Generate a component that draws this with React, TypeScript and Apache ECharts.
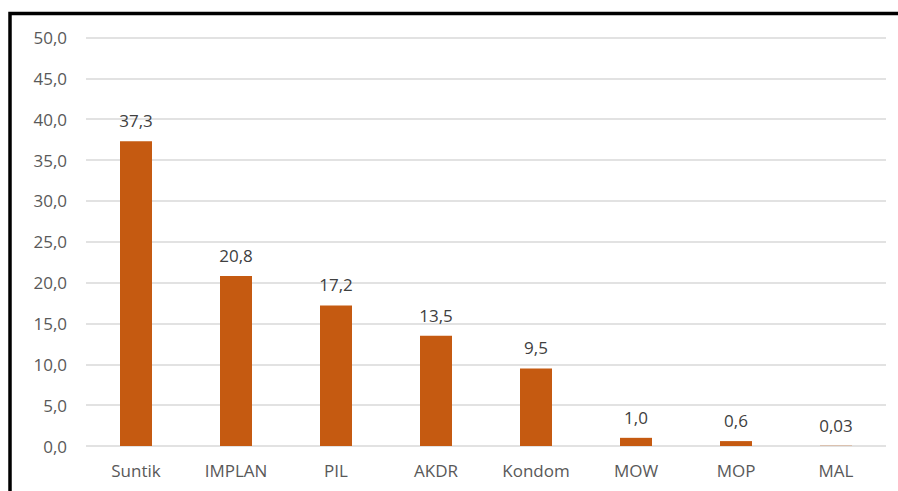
import React, { useEffect, useRef } from "react";
import * as echarts from "echarts";

const categories = ["Suntik", "IMPLAN", "PIL", "AKDR", "Kondom", "MOW", "MOP", "MAL"];
const values = [37.3, 20.8, 17.2, 13.5, 9.5, 1.0, 0.6, 0.03];
const valueLabels = ["37,3", "20,8", "17,2", "13,5", "9,5", "1,0", "0,6", "0,03"];

export default function App() {
  const ref = useRef<HTMLDivElement>(null);
  useEffect(() => {
    const chart = echarts.init(ref.current!, null, { renderer: "svg" });
    chart.setOption({
      animation: false,
      backgroundColor: "#ffffff",
      graphic: [
        {
          type: "rect",
          shape: { x: 10, y: 13.5, width: 1000, height: 1000 },
          style: { fill: "none", stroke: "#000000", lineWidth: 3.5 },
          silent: true,
          z: 100,
        },
      ],
      grid: { left: 86, right: 12, top: 37.5, bottom: 45 },
      xAxis: {
        type: "category",
        data: categories,
        axisLine: { show: false },
        axisTick: { show: false },
        axisLabel: {
          color: "#595959",
          fontSize: 17,
          fontFamily: "Open Sans",
          margin: 16,
        },
      },
      yAxis: {
        type: "value",
        min: 0,
        max: 50,
        interval: 5,
        axisLine: { show: false },
        axisTick: { show: false },
        splitLine: { lineStyle: { color: "#d9d9d9", width: 1.5 } },
        axisLabel: {
          color: "#595959",
          fontSize: 17,
          fontFamily: "Open Sans",
          margin: 19,
          formatter: (v: number) => v.toFixed(1).replace(".", ","),
        },
      },
      series: [
        {
          type: "bar",
          data: values,
          barWidth: 32,
          itemStyle: { color: "#C55A11" },
          label: {
            show: true,
            position: "top",
            distance: 12,
            color: "#404040",
            fontSize: 17,
            fontFamily: "Open Sans",
            formatter: (p: any) => valueLabels[p.dataIndex],
          },
        },
      ],
    });
    return () => chart.dispose();
  }, []);
  return <div ref={ref} style={{ width: 898, height: 491, position: "fixed", left: 0, top: 0 }} />;
}
